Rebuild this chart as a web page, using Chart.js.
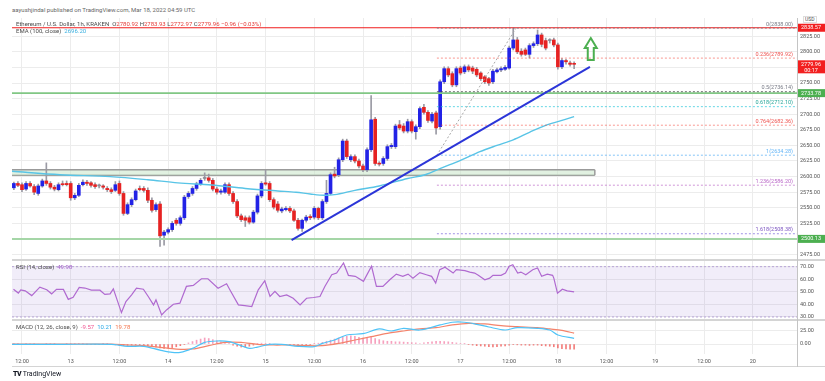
<!DOCTYPE html>
<html>
<head>
<meta charset="utf-8">
<script src="https://cdn.jsdelivr.net/npm/chart.js@4.4.1/dist/chart.umd.min.js"></script>
<style>
  html, body { margin: 0; padding: 0; background: #fff; }
  #wrap { position: relative; width: 825px; height: 381px; overflow: hidden; font-family: Roboto, "Liberation Sans", sans-serif; }
  canvas { position: absolute; left: 0; }
  .txt { position: absolute; white-space: nowrap; font-size: 6px; line-height: 1; color: #4a4a4a; }
  .sep { position: absolute; background: #d4d4d4; }
</style>
</head>
<body>
<div id="wrap">
  <div class="txt" style="left:12px;top:7px;color:#666">aayushjindal published on TradingView.com, Mar 18, 2022 04:59 UTC</div>
  <canvas id="main" width="825" height="242" style="top:18px"></canvas>
  <canvas id="rsi" width="825" height="58" style="top:261px"></canvas>
  <canvas id="macd" width="825" height="47" style="top:321px"></canvas>

  <div class="sep" style="left:12px;top:259px;width:813px;height:2px"></div>
  <div class="sep" style="left:12px;top:319px;width:813px;height:2px"></div>
  <div class="sep" style="left:12px;top:366px;width:813px;height:1px"></div>
  <div class="sep" style="left:797px;top:18px;width:1px;height:349px;background:#c4c4c4"></div>

  <div class="txt" style="left:16px;top:21px">Ethereum / U.S. Dollar, 1h, KRAKEN&nbsp; O<span style="color:#e53935">2780.92</span> H<span style="color:#e53935">2783.93</span> L<span style="color:#e53935">2772.97</span> C<span style="color:#e53935">2779.96</span> <span style="color:#e53935">&minus;0.96 (&minus;0.03%)</span></div>
  <div class="txt" style="left:16px;top:28px">EMA (100, close)&nbsp; <span style="color:#3bb0e0">2696.20</span></div>
  <div class="txt" style="left:16px;top:264px">RSI (14, close)&nbsp; <span style="color:#a05cc8">49.98</span></div>
  <div class="txt" style="left:16px;top:324px">MACD (12, 26, close, 9)&nbsp; <span style="color:#ef5390">-9.57</span>&nbsp; <span style="color:#29a8e6">10.21</span>&nbsp; <span style="color:#f4764f">19.78</span></div>
  <div class="txt" style="left:803px;top:16px;font-size:5px;border:1px solid #ddd;background:#fff;padding:0 1px">USD</div>
  <div class="txt" style="left:13px;top:371px;font-size:7px;color:#131722"><b style="font-weight:900;letter-spacing:-0.5px">TV</b> TradingView</div>
</div>
<script>
const FONT = 'Roboto, "Liberation Sans", sans-serif';
const BLUE = '#2222e6';
const RED = '#e62222';
const DOJI = '#8c8c96';
const GRID = '#ececec';

// hours counted from Mar 12 12:00, one candle per hour
const X_MIN = -2.46;
const X_MAX = 190.9;
const firstHour = -2;

const tickHours = [0, 12, 24, 36, 48, 60, 72, 84, 96, 108, 120, 132, 144, 156, 168, 180];
const tickLabels = ['12:00', '13', '12:00', '14', '12:00', '15', '12:00', '16', '12:00', '17', '12:00', '18', '12:00', '19', '12:00', '20'];

const opens = [2582,2589,2587,2580,2589,2584,2573,2585,2593,2589,
  2583,2579,2588,2589,2589,2566,2570,2587,2591,2590,
  2587,2585,2585,2581,2579,2578,2589,2573,2541,2555,
  2563,2581,2581,2578,2562,2547,2556,2506,2511,2515,
  2530,2525,2534,2568,2573,2581,2588,2597,2598,2594,
  2580,2575,2575,2587,2573,2560,2537,2534,2534,2527,
  2543,2569,2590,2589,2563,2556,2545,2547,2549,2545,
  2530,2517,2530,2536,2535,2549,2534,2560,2573,2604,
  2603,2627,2657,2627,2632,2625,2617,2611,2643,2692,
  2621,2621,2629,2648,2648,2683,2681,2673,2688,2672,
  2680,2711,2703,2689,2702,2680,2752,2773,2765,2747,
  2774,2768,2776,2774,2772,2766,2760,2757,2752,2768,
  2771,2772,2774,2806,2819,2801,2803,2796,2810,2813,
  2827,2818,2818,2819,2811,2776,2786,2782,2780.92];
const highs = [2591,2592,2590,2592,2592,2587,2588,2596,2622,2592,
  2586,2590,2593,2593,2592,2573,2589,2595,2594,2592,
  2590,2588,2587,2584,2582,2592,2593,2576,2558,2566,
  2580,2585,2584,2582,2566,2558,2560,2514,2518,2528,
  2533,2537,2570,2576,2584,2591,2597,2606,2604,2597,
  2583,2580,2590,2590,2576,2563,2540,2537,2537,2546,
  2572,2592,2610,2592,2566,2560,2551,2552,2552,2548,
  2533,2532,2538,2539,2552,2551,2563,2594,2606,2615,
  2630,2660,2660,2635,2635,2628,2620,2646,2730,2695,
  2624,2632,2651,2653,2684,2690,2685,2692,2691,2683,
  2712,2716,2706,2703,2705,2755,2776,2776,2768,2776,
  2777,2779,2779,2777,2775,2768,2762,2759,2772,2774,
  2776,2778,2809,2838,2823,2805,2806,2813,2816,2835,
  2830,2822,2821,2822,2814,2789,2788,2785,2783.93];
const lows = [2579,2584,2576,2578,2583,2571,2570,2583,2586,2580,
  2577,2577,2585,2585,2562,2563,2568,2585,2586,2583,
  2581,2582,2580,2576,2573,2576,2570,2538,2539,2552,
  2561,2577,2575,2558,2543,2544,2488,2490,2508,2512,
  2522,2522,2531,2565,2570,2578,2586,2594,2591,2577,
  2572,2572,2573,2570,2557,2534,2528,2520,2524,2525,
  2540,2566,2586,2560,2548,2543,2542,2545,2542,2528,
  2514,2512,2527,2531,2532,2531,2531,2557,2571,2598,
  2600,2624,2629,2624,2622,2614,2608,2608,2640,2618,
  2617,2618,2626,2645,2645,2675,2670,2670,2670,2660,
  2677,2700,2687,2686,2668,2676,2749,2760,2744,2744,
  2763,2765,2768,2765,2760,2754,2749,2746,2749,2766,
  2768,2770,2772,2803,2797,2793,2794,2790,2807,2810,
  2808,2803,2814,2808,2772,2773,2780,2777,2772.97];
const closes = [2589,2586,2579,2589,2585,2575,2585,2593,2589,2583,
  2580,2587,2587,2587,2566,2570,2586,2591,2589,2586,
  2584,2585,2583,2579,2576,2587,2573,2541,2555,2563,
  2577,2579,2578,2562,2546,2555,2505,2511,2515,2525,
  2525,2534,2567,2573,2581,2588,2594,2597,2594,2580,
  2575,2577,2587,2573,2560,2537,2531,2530,2527,2543,
  2569,2589,2588,2563,2551,2546,2548,2549,2545,2530,
  2517,2530,2535,2534,2549,2534,2560,2573,2603,2601,
  2627,2657,2632,2632,2625,2617,2611,2643,2691,2621,
  2620,2629,2648,2650,2681,2678,2673,2688,2673,2680,
  2709,2703,2690,2700,2678,2752,2773,2763,2747,2773,
  2766,2776,2771,2769,2763,2757,2752,2750,2769,2771,
  2773,2775,2806,2819,2800,2796,2796,2810,2813,2827,
  2812,2806,2818,2811,2776,2786,2784,2780,2779.96];

const emaHours = [-2.5, 9.4, 21.7, 31, 38.4, 46.7, 55, 63, 67.5, 71, 74.5, 77, 82, 88, 95, 99.3, 103.4, 108, 112.8, 117, 121, 125, 129.3, 133, 136];
const emaValues = [2608.5, 2603, 2600, 2595, 2590, 2586.5, 2581, 2577, 2575, 2572, 2570, 2571, 2578, 2585, 2597, 2603, 2614, 2626, 2640, 2650, 2659, 2671, 2683, 2690, 2696.2];

const fibRatios = ['0', '0.236', '0.5', '0.618', '0.764', '1', '1.236', '1.618'];
const fibPrices = [2838.00, 2789.92, 2736.14, 2712.10, 2682.36, 2634.28, 2586.20, 2508.38];
const fibStartHour = 102.2;
const fibDiagHours = [102.2, 121.7];
const fibDiagPrices = [2634.28, 2838.00];

const resistanceLevel = 2838.57;
const supportLevels = [2733.78, 2500.13];
const lastClose = 2779.96;
const zoneHours = [X_MIN, 141.1];
const zonePrices = [2602, 2611];
const trendHours = [66.4, 139.9];
const trendPrices = [2498, 2776];
const arrowHour = 140.1;
const arrowPrices = [2787, 2822];
const priceTicks = [2475, 2500, 2525, 2550, 2575, 2600, 2625, 2650, 2675, 2700, 2725, 2750, 2775, 2800, 2825];

const rsiHours = [-2.1,-0.9,-0.3,0.8,2.4,4.4,6.1,7.3,8.5,10.2,11.4,12.6,14.1,15.5,17.1,19.2,20.4,21.7,22.5,24.5,
  25.6,27,28.2,29.9,31.1,32.4,33,34.4,35.6,37.3,38.9,40.5,42.2,44.2,45.8,48.3,50.4,51.2,53.3,54.9,
  56.6,58.2,59.8,61.1,62.3,63.5,65.2,66.8,68.5,70.1,71.8,73.4,74.6,76.3,77.5,79.2,80.4,82.1,84.1,86.1,
  87.3,88.9,90.6,92.2,93.8,95.1,96.3,98,99.6,100.9,101.9,102.9,104.2,106.2,107,109.1,110.3,111.5,112.4,114,
  115.2,116,118,119.1,120,120.9,122.1,122.9,124.1,125.8,127,128,129.4,130.7,131,131.9,133.1,134.3,136];
const rsiValues = [52.1,49,51.6,50.8,47,53.7,51.6,48.4,52,51.9,44,45.7,53.5,53,51.3,51.3,48,48.4,52.4,33.5,
  42.3,47.6,53,52.1,46.3,39.6,43.6,31.6,35.6,40.1,41,54.3,55.1,60.4,60.4,52.9,56.4,51.6,39.6,39.1,
  38.3,51.6,58.8,46.3,50.3,46.3,47.6,44.9,39.6,44.9,45.5,46.3,54.3,63.6,64.9,72.9,63.1,62.3,58.3,70.3,
  54.3,54.3,59.6,64.1,62.3,64.1,60.9,65.3,63.6,62.3,56.9,67.6,69.5,64.9,67.6,66.8,65.7,64.9,63.1,59.6,
  60.9,63.1,63.1,64.9,70.3,71.6,64.9,65.7,63.6,67.6,68.9,62.3,64.1,63.1,60.9,48.9,52.1,50.8,49.98];
const rsiTicks = [30, 40, 50, 60, 70];

const macdHours = [-2.5,10,22,26,30,34,37,39,42,45,48,51,54,56,58,61,64,68,72,74,77,80,84,88,91,94,98,103,106,109,112,115,119,122,127,130,132,136];
const macdValues = [-0.6,-0.6,-0.6,-4.3,-4.3,-11,-15.3,-15.3,-8,3,5.5,4.3,-3,-8,-5.5,-0.6,-0.6,-4.3,-4.9,1.2,7.3,16.5,18.9,27.5,23.8,28.7,25.6,34.8,39.7,39.7,36,31,25.6,29.9,28.7,25.6,16.5,10.21];
const signalHours = [-2.5,22,26,30,34,38,42,46,50,54,58,62,66,70,74,78,82,86,90,94,98,102,106,110,114,118,122,127,130,133,136];
const signalValues = [-0.3,0,-1.8,-3,-6,-9.2,-9,-3,3,3,-0.6,-1.8,-1.8,-3,-3,1.2,7.3,13.4,19.5,23.8,27.5,29.9,34.8,37.8,36.6,33.5,31.7,29.9,27.5,25,19.78];
const histValues = [0.5,0.8,-0.5,0.6,0.9,0.7,-0.4,-0.6,0.5,0.8,0.6,-0.5,-1,0.4,0.9,1,0.7,0.4,-0.3,-0.5,-0.6,-0.4,0.6,0.3,-0.8,
  -1.5,-2.5,-3,-2.6,-2,-1.5,-1.8,
  -2.5,-3.5,-4.5,-5.5,-7,-8,-7.5,-6.5,-5,-3,-1,
  2,4.5,7,9,11,10,8,6,4,2.5,
  0.5,-2,-4,-5.5,-5.5,-4,-2,
  0.5,1.5,1,0.5,-0.5,-1,-0.5,-0.8,-1.5,
  -2,-2.5,-2,-1.5,-1,0.5,1.5,
  3,5,7,9,11,13,14,15,14,12,11,12,13,
  10,8,6,5,5,4,4,3.5,3,2.5,2,
  1,2,3,4,5,5,4.5,4,3,2,1,0.5,
  -1,-2,-3,-3.5,-4,-5,-5.5,-5,-4,-3.5,-2,-1,-1.5,-2,-2,-2.5,-2,-2,-3,-3.5,-4,-5,-7,-8.5,-9,-9.5,-9.57];
const macdTicks = [0, 25];

const candleHours = opens.map((_, i) => firstHour + i);
const pts = (xs, ys) => xs.map((x, i) => ({ x, y: ys[i] }));
const candleColor = i => closes[i] > opens[i] ? BLUE : (closes[i] < opens[i] ? RED : DOJI);

function xScale(showLabels) {
  return {
    type: 'linear', min: X_MIN, max: X_MAX, offset: false,
    grid: { color: GRID, drawTicks: false, offset: false },
    border: { display: false },
    afterBuildTicks: s => { s.ticks = tickHours.map(v => ({ value: v })); },
    ticks: {
      display: showLabels, autoSkip: false, maxRotation: 0, padding: 4,
      color: '#555', font: { size: 5.5, family: FONT },
      callback: (v, i) => tickLabels[i]
    },
    afterFit: s => { s.height = showLabels ? 14 : 0; s.paddingLeft = 0; s.paddingRight = 0; }
  };
}

function yScale(min, max, ticks) {
  return {
    position: 'right', min, max, beginAtZero: false,
    grid: { color: GRID, drawTicks: false },
    border: { display: true, color: '#c4c4c4' },
    afterBuildTicks: s => { s.ticks = ticks.map(v => ({ value: v })); },
    ticks: { padding: 3, color: '#555', font: { size: 5.5, family: FONT }, callback: v => Number(v).toFixed(2) },
    afterFit: s => { s.width = 28; s.paddingTop = 0; s.paddingBottom = 0; }
  };
}

const baseOptions = {
  responsive: false, animation: false, events: [], devicePixelRatio: 1,
  layout: { padding: { left: 12, right: 0, top: 0, bottom: 0 } },
  plugins: { legend: { display: false }, tooltip: { enabled: false } }
};

const line = (data, color, width, extra) => Object.assign({
  type: 'line', data, borderColor: color, borderWidth: width, pointRadius: 0, fill: false
}, extra || {});

const fibColors = ['rgba(120,123,134,0.8)', 'rgba(244,67,54,0.55)', 'rgba(70,70,70,0.75)', 'rgba(38,198,218,0.7)',
  'rgba(244,67,54,0.55)', 'rgba(100,181,246,0.8)', 'rgba(186,104,200,0.7)', 'rgba(120,100,220,0.7)'];
const fibTextColors = ['#787b86', '#ef5350', '#787b86', '#26a69a', '#ef5350', '#64b5f6', '#ba68c8', '#7e57c2'];

const mainOverlay = {
  id: 'mainOverlay',
  afterDatasetsDraw(chart) {
    const { ctx, chartArea, scales: { x, y } } = chart;
    ctx.save();
    ctx.font = '5.5px ' + FONT;
    ctx.textAlign = 'right';
    ctx.textBaseline = 'bottom';
    fibPrices.forEach((p, i) => {
      ctx.fillStyle = fibTextColors[i];
      ctx.fillText(fibRatios[i] + '(' + p.toFixed(2) + ')', chartArea.right - 4, y.getPixelForValue(p) - 1);
    });
    const cx = x.getPixelForValue(arrowHour);
    const top = y.getPixelForValue(arrowPrices[1]);
    const bot = y.getPixelForValue(arrowPrices[0]);
    ctx.beginPath();
    ctx.moveTo(cx, top);
    ctx.lineTo(cx + 6, top + 10);
    ctx.lineTo(cx + 3, top + 10);
    ctx.lineTo(cx + 3, bot);
    ctx.lineTo(cx - 3, bot);
    ctx.lineTo(cx - 3, top + 10);
    ctx.lineTo(cx - 6, top + 10);
    ctx.closePath();
    ctx.strokeStyle = '#4caf50';
    ctx.lineWidth = 2;
    ctx.stroke();
    ctx.restore();
  },
  afterDraw(chart) {
    const { ctx, scales: { y } } = chart;
    const tags = [
      { value: resistanceLevel, bg: '#f21f1f' },
      { value: supportLevels[0], bg: '#4caf50' },
      { value: supportLevels[1], bg: '#4caf50' },
      { value: lastClose, bg: '#f21f1f', sub: '00:17' }
    ];
    ctx.save();
    ctx.font = '5.5px ' + FONT;
    ctx.textAlign = 'center';
    ctx.textBaseline = 'middle';
    tags.forEach(t => {
      const py = y.getPixelForValue(t.value);
      ctx.fillStyle = t.bg;
      ctx.fillRect(y.left + 1, py - 4, chart.width - y.left - 1, t.sub ? 13 : 8);
      ctx.fillStyle = '#fff';
      ctx.fillText(t.value.toFixed(2), y.left + 14, py);
      if (t.sub) ctx.fillText(t.sub, y.left + 14, py + 6);
    });
    ctx.restore();
  }
};

new Chart(document.getElementById('main'), {
  type: 'bar',
  data: {
    datasets: [
      line(pts(trendHours, trendPrices), '#2b35d8', 2),
      line(pts(fibDiagHours, fibDiagPrices), '#a8a8a8', 1, { borderDash: [2, 2] }),
      ...fibPrices.map((p, i) => line([{ x: fibStartHour, y: p }, { x: X_MAX, y: p }], fibColors[i], 1, { borderDash: [2, 2] })),
      line([{ x: X_MIN, y: resistanceLevel }, { x: X_MAX, y: resistanceLevel }], '#f01c1c', 1.2),
      line([{ x: X_MIN, y: supportLevels[0] }, { x: X_MAX, y: supportLevels[0] }], '#81c784', 1.6),
      line([{ x: X_MIN, y: supportLevels[1] }, { x: X_MAX, y: supportLevels[1] }], '#a5d6a7', 2),
      line(pts(emaHours, emaValues), '#58c4e6', 1.4, { cubicInterpolationMode: 'monotone' }),
      {
        type: 'bar', grouped: false, barThickness: 3, minBarLength: 1,
        data: candleHours.map((h, i) => ({ x: h, y: [opens[i], closes[i]] })),
        backgroundColor: candleHours.map((h, i) => candleColor(i))
      },
      {
        type: 'bar', grouped: false, barThickness: 1,
        data: candleHours.map((h, i) => ({ x: h, y: [lows[i], highs[i]] })),
        backgroundColor: '#9a9aa4'
      },
      line([{ x: zoneHours[1], y: zonePrices[0] }, { x: zoneHours[1], y: zonePrices[1] }], '#9a9a9a', 1.5),
      line(pts(zoneHours, [zonePrices[1], zonePrices[1]]), '#9a9a9a', 1.5, { fill: '+1', backgroundColor: 'rgba(200,230,201,0.55)' }),
      line(pts(zoneHours, [zonePrices[0], zonePrices[0]]), '#9a9a9a', 1.5)
    ]
  },
  options: Object.assign({}, baseOptions, {
    scales: { x: xScale(false), y: yScale(2466.3, 2854.2, priceTicks) }
  }),
  plugins: [mainOverlay]
});

new Chart(document.getElementById('rsi'), {
  type: 'line',
  data: {
    datasets: [
      line(pts(rsiHours, rsiValues), '#b06ad0', 1.2),
      line([{ x: X_MIN, y: 70 }, { x: X_MAX, y: 70 }], 'rgba(150,120,200,0.6)', 1, { borderDash: [2, 2], fill: { value: 30 }, backgroundColor: 'rgba(149,117,205,0.13)' }),
      line([{ x: X_MIN, y: 30 }, { x: X_MAX, y: 30 }], 'rgba(150,120,200,0.6)', 1, { borderDash: [2, 2] })
    ]
  },
  options: Object.assign({}, baseOptions, {
    scales: { x: xScale(false), y: yScale(28.4, 74.5, rsiTicks) }
  })
});

new Chart(document.getElementById('macd'), {
  type: 'bar',
  data: {
    datasets: [
      line(pts(macdHours, macdValues), '#4fc3f7', 1.2, { tension: 0.3 }),
      line(pts(signalHours, signalValues), '#f4836b', 1.2, { tension: 0.3 }),
      {
        type: 'bar', grouped: false, barThickness: 1,
        data: candleHours.map((h, i) => ({ x: h, y: histValues[i] })),
        backgroundColor: histValues.map(v => v >= 0 ? 'rgba(240,98,146,0.6)' : 'rgba(239,83,80,0.75)')
      }
    ]
  },
  options: Object.assign({}, baseOptions, {
    scales: { x: xScale(true), y: yScale(-18.2, 42, macdTicks) }
  })
});
</script>
</body>
</html>
